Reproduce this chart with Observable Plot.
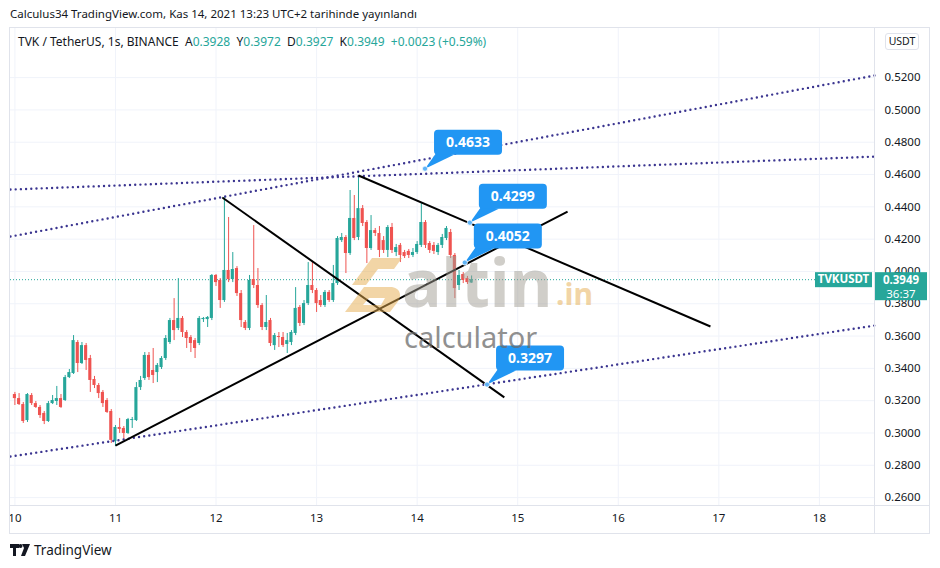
<!DOCTYPE html>
<html><head><meta charset="utf-8">
<script src="https://cdn.jsdelivr.net/npm/d3@7"></script>
<script src="https://cdn.jsdelivr.net/npm/@observablehq/plot@0.6"></script>
<style>
body{margin:0;background:#fff;font-family:"Noto Sans",sans-serif;color:#131722;}
#wrap{position:relative;width:940px;height:568px;overflow:hidden;background:#fff;}
.abs{position:absolute;}
#pub{left:10px;top:5px;font-size:11.5px;line-height:18px;color:#131722;white-space:nowrap;}
#frame{left:9px;top:27px;width:921px;height:507px;box-sizing:border-box;border:1px solid #e0e3eb;}
#chart{left:10px;top:28px;width:920px;height:505px;overflow:hidden;}
#vsep{left:874px;top:28px;width:1px;height:505px;background:#e0e3eb;}
#hsep{left:10px;top:505px;width:920px;height:1px;background:#e0e3eb;}
#legend{left:18px;top:33px;font-size:12px;line-height:18px;white-space:nowrap;}
#legend .v{color:#26a69a;}
#usdt{left:885px;top:33px;width:34px;height:17px;box-sizing:border-box;border:1px solid #e0e3eb;border-radius:3px;font-size:10.5px;line-height:15px;text-align:center;background:#fff;}
#foot{left:10px;top:540px;font-size:13.5px;line-height:20px;white-space:nowrap;}
#wm{left:0;top:0;pointer-events:none;}
</style></head><body>
<div id="wrap">
  <div id="pub" class="abs">Calculus34 TradingView.com, Kas 14, 2021 13:23 UTC+2 tarihinde yayınlandı</div>
  <div id="frame" class="abs"></div>
  <div id="chart" class="abs"></div>
  <div id="vsep" class="abs"></div>
  <div id="hsep" class="abs"></div>
  <div id="legend" class="abs"></div>
  <div id="usdt" class="abs">USDT</div>
  <div id="foot" class="abs"><svg width="20" height="12" style="vertical-align:-1px;margin-right:4px" viewBox="0 0 20 12"><path d="M0 0h9v4H6v8H3V4H0z M12 0h8l-5 12h-4l3-8z" fill="#131722"/><circle cx="10.5" cy="2" r="2" fill="#131722"/></svg>TradingView</div>
  <svg id="wm" class="abs" width="940" height="568"></svg>
</div>
<script>
// ---- data ----
const symbol = "TVK / TetherUS, 1s, BINANCE";
const startTime = "2021-11-10T00:00:00Z"; // first hourly candle
const opens = [0.3238,0.3213,0.3176,0.3077,0.3232,0.3182,0.3158,0.3121,0.3071,0.3182,
0.3195,0.3213,0.3201,0.3343,0.3368,0.3560,0.3430,0.3541,0.3461,0.3331,
0.3294,0.3251,0.3201,0.3133,0.2947,0.3034,0.3028,0.2997,0.3077,0.3077,
0.3281,0.3337,0.3480,0.3387,0.3374,0.3405,0.3461,0.3560,0.3696,0.3647,
0.3709,0.3622,0.3591,0.3572,0.3554,0.3702,0.3702,0.3709,0.3975,0.3944,
0.3820,0.4006,0.3950,0.4018,0.3863,0.3684,0.3647,0.3950,0.3913,0.3789,
0.3653,0.3696,0.3541,0.3597,0.3591,0.3548,0.3560,0.3616,0.3777,0.3678,
0.3801,0.3913,0.3882,0.3820,0.3789,0.3870,0.3820,0.3925,0.4191,0.4210,
0.4111,0.4328,0.4210,0.4389,0.4303,0.4142,0.4253,0.4235,0.4191,0.4130,
0.4272,0.4117,0.4161,0.4117,0.4124,0.4099,0.4117,0.4161,0.4303,0.4173,
0.4161,0.4117,0.4161,0.4204,0.4241,0.4099,0.3913,0.3981,0.3956,0.3928];
const closes = [0.3213,0.3176,0.3071,0.3238,0.3182,0.3158,0.3108,0.3071,0.3182,0.3201,
0.3213,0.3158,0.3343,0.3374,0.3572,0.3430,0.3541,0.3449,0.3325,0.3294,
0.3244,0.3182,0.3127,0.2954,0.3034,0.3022,0.2997,0.3083,0.3083,0.3281,
0.3325,0.3480,0.3343,0.3356,0.3418,0.3461,0.3585,0.3696,0.3634,0.3709,
0.3622,0.3585,0.3554,0.3523,0.3709,0.3709,0.3715,0.3975,0.3931,0.3820,
0.4006,0.3950,0.4012,0.3863,0.3696,0.3647,0.3944,0.3913,0.3789,0.3653,
0.3684,0.3554,0.3603,0.3591,0.3541,0.3572,0.3622,0.3771,0.3678,0.3801,
0.3913,0.3882,0.3801,0.3789,0.3870,0.3820,0.3925,0.4204,0.4210,0.4111,
0.4328,0.4204,0.4389,0.4297,0.4142,0.4253,0.4235,0.4130,0.4130,0.4272,
0.4130,0.4148,0.4099,0.4092,0.4099,0.4117,0.4167,0.4303,0.4161,0.4130,
0.4124,0.4161,0.4210,0.4266,0.4099,0.3894,0.3975,0.3944,0.3931,0.3949];
const highs = [0.3251,0.3244,0.3189,0.3244,0.3244,0.3195,0.3170,0.3133,0.3195,0.3232,
0.3288,0.3238,0.3356,0.3393,0.3603,0.3572,0.3560,0.3554,0.3480,0.3350,
0.3306,0.3263,0.3213,0.3145,0.3046,0.3090,0.3040,0.3090,0.3096,0.3312,
0.3350,0.3498,0.3498,0.3523,0.3430,0.3473,0.3603,0.3709,0.3832,0.3956,
0.3721,0.3634,0.3603,0.3585,0.3721,0.3715,0.3721,0.3981,0.3981,0.3956,
0.4458,0.4334,0.4117,0.4030,0.3882,0.3696,0.3975,0.4284,0.4018,0.3801,
0.3851,0.3709,0.3616,0.3622,0.3622,0.3616,0.3634,0.3900,0.3789,0.3820,
0.4055,0.4055,0.3894,0.3851,0.3882,0.3882,0.4037,0.4216,0.4235,0.4222,
0.4501,0.4470,0.4594,0.4408,0.4315,0.4346,0.4266,0.4278,0.4216,0.4284,
0.4297,0.4167,0.4173,0.4130,0.4136,0.4142,0.4185,0.4420,0.4315,0.4185,
0.4179,0.4173,0.4229,0.4278,0.4260,0.4111,0.4006,0.3993,0.3969,0.3972];
const lows = [0.3170,0.3170,0.3059,0.3065,0.3170,0.3152,0.3090,0.3052,0.3065,0.3176,
0.3170,0.3152,0.3195,0.3337,0.3362,0.3374,0.3424,0.3387,0.3251,0.3275,
0.3213,0.3158,0.3121,0.2935,0.2916,0.2997,0.2954,0.2991,0.3028,0.3071,
0.3263,0.3325,0.3325,0.3306,0.3312,0.3393,0.3449,0.3548,0.3572,0.3634,
0.3591,0.3523,0.3498,0.3461,0.3541,0.3684,0.3653,0.3696,0.3907,0.3771,
0.3808,0.3931,0.3931,0.3845,0.3653,0.3634,0.3634,0.3894,0.3771,0.3634,
0.3634,0.3535,0.3511,0.3529,0.3529,0.3492,0.3541,0.3603,0.3659,0.3665,
0.3789,0.3863,0.3746,0.3777,0.3777,0.3808,0.3808,0.3913,0.4179,0.3987,
0.4099,0.4191,0.4191,0.4278,0.4049,0.4130,0.4216,0.4086,0.4111,0.4086,
0.4111,0.4092,0.4055,0.4080,0.4080,0.4086,0.4105,0.4148,0.4142,0.4111,
0.4105,0.4099,0.4142,0.4191,0.4080,0.3832,0.3882,0.3925,0.3919,0.3927];

const yTicks = [0.26,0.28,0.30,0.32,0.34,0.36,0.38,0.40,0.42,0.44,0.46,0.48,0.50,0.52];
const dayTicks = ["2021-11-10","2021-11-11","2021-11-12","2021-11-13","2021-11-14","2021-11-15","2021-11-16","2021-11-17","2021-11-18"];
const xDomain = ["2021-11-09T22:57:00Z","2021-11-18T13:09:00Z"];
const yDomain = [0.2551, 0.5504];

// solid trend lines (black)
const trendStart = ["2021-11-11T00:00:00Z","2021-11-12T01:30:00Z","2021-11-13T10:00:00Z"];
const trendStartVal = [0.2922, 0.4458, 0.4594];
const trendEnd = ["2021-11-15T11:54:00Z","2021-11-14T20:48:00Z","2021-11-16T22:00:00Z"];
const trendEndVal = [0.4371, 0.3220, 0.3659];
// dotted channel lines (purple)
const chanStart = ["2021-11-09T22:57:00Z","2021-11-09T22:57:00Z","2021-11-09T22:57:00Z"];
const chanStartVal = [0.4216, 0.4507, 0.2854];
const chanEnd = ["2021-11-18T13:09:00Z","2021-11-18T13:09:00Z","2021-11-18T13:09:00Z"];
const chanEndVal = [0.5213, 0.4711, 0.3665];
// price callouts
const noteTimes = ["2021-11-14T02:00:00Z","2021-11-14T12:42:00Z","2021-11-14T11:30:00Z","2021-11-14T16:48:00Z"];
const noteVals = [0.4633, 0.4299, 0.4052, 0.3297];

const lastPrice = 0.3949;
const countdown = "36:37";
const ticker = "TVKUSDT";
const legendParts = [["A","0.3928"],["Y","0.3972"],["D","0.3927"],["K","0.3949"]];
const change = "+0.0023 (+0.59%)";

// ---- build ----
const GREEN = "#26a69a", RED = "#ef5350", PURPLE = "#3b3590";
const H = 3600e3;
const t0 = new Date(startTime).getTime();
const candles = opens.map((o, i) => ({
  date: new Date(t0 + i * H), open: o, close: closes[i], high: highs[i], low: lows[i]
}));
const col = d => d.close >= d.open ? GREEN : RED;
const trends = trendStart.map((s, i) => ({x1: new Date(s), y1: trendStartVal[i], x2: new Date(trendEnd[i]), y2: trendEndVal[i]}));
const chans = chanStart.map((s, i) => ({x1: new Date(s), y1: chanStartVal[i], x2: new Date(chanEnd[i]), y2: chanEndVal[i]}));
const notes = noteTimes.map((t, i) => ({date: new Date(t), value: noteVals[i]}));

document.getElementById("legend").innerHTML =
  symbol + "&nbsp;&nbsp;" +
  legendParts.map(([k, v]) => `${k}<span class="v">${v}</span>`).join("&nbsp;&nbsp;") +
  `&nbsp;&nbsp;<span class="v">${change}</span>`;

const chart = Plot.plot({
  width: 920, height: 505,
  marginTop: 0, marginLeft: 0, marginRight: 56, marginBottom: 28,
  x: {type: "utc", domain: xDomain.map(d => new Date(d))},
  y: {domain: yDomain},
  style: {fontFamily: "Noto Sans, sans-serif", fontSize: "11.5px", color: "#131722", background: "transparent"},
  marks: [
    Plot.ruleY(yTicks, {stroke: "#f0f3fa", strokeOpacity: 1}),
    Plot.ruleX(dayTicks.map(d => new Date(d)), {stroke: "#f0f3fa", strokeOpacity: 1}),
    Plot.ruleY([lastPrice], {stroke: GREEN, strokeDasharray: "1 2", strokeWidth: 1}),
    Plot.ruleX(candles, {x: "date", y1: "low", y2: "high", stroke: col, strokeWidth: 1}),
    Plot.rect(candles, {
      x1: d => new Date(+d.date - 0.37 * H), x2: d => new Date(+d.date + 0.37 * H),
      y1: "open", y2: "close", fill: col
    }),
    Plot.link(chans, {x1: "x1", y1: "y1", x2: "x2", y2: "y2", stroke: PURPLE, strokeWidth: 2.4, strokeDasharray: "0 5.2", strokeLinecap: "round"}),
    Plot.link(trends, {x1: "x1", y1: "y1", x2: "x2", y2: "y2", stroke: "#000", strokeWidth: 2}),
    Plot.axisY(yTicks, {anchor: "right", tickSize: 0, tickPadding: 10, tickFormat: d => d.toFixed(4), label: null, fill: "#131722"}),
    Plot.axisX(dayTicks.map(d => new Date(d)), {anchor: "bottom", tickSize: 0, tickPadding: 8, tickFormat: d3.utcFormat("%-d"), label: null, fill: "#131722"})
  ]
});
document.getElementById("chart").appendChild(chart);

const sx = chart.scale("x"), sy = chart.scale("y");
const svg = d3.select(chart);

// callouts
const g = svg.append("g");
for (const n of notes) {
  const px = sx.apply(n.date), py = sy.apply(n.value);
  const bx = px + 9, by = py - 39, bw = 68, bh = 25;
  g.append("path").attr("d", `M${bx + 3},${by + bh - 3} L${bx + 20},${by + bh} L${px},${py} Z`).attr("fill", "#2196f3");
  g.append("rect").attr("x", bx).attr("y", by).attr("width", bw).attr("height", bh).attr("rx", 4).attr("fill", "#2196f3");
  g.append("text").attr("x", bx + bw / 2).attr("y", by + bh / 2).attr("dy", "0.36em").attr("text-anchor", "middle")
    .attr("fill", "#fff").attr("font-weight", "bold").attr("font-size", 14).text(n.value.toFixed(4));
  g.append("circle").attr("cx", px).attr("cy", py).attr("r", 2.6).attr("fill", "#5fb3f6").attr("stroke", "#fff").attr("stroke-width", 0.8);
}

// price badges
const ly = sy.apply(lastPrice);
const b = svg.append("g");
b.append("rect").attr("x", 805).attr("y", ly - 7).attr("width", 57).attr("height", 15).attr("fill", GREEN);
b.append("text").attr("x", 833.5).attr("y", ly).attr("dy", "0.36em").attr("text-anchor", "middle").attr("fill", "#fff")
  .attr("font-weight", "bold").attr("font-size", 11.5).text(ticker);
b.append("rect").attr("x", 865).attr("y", ly - 7).attr("width", 52).attr("height", 28).attr("fill", GREEN);
b.append("text").attr("x", 891).attr("y", ly + 1).attr("dy", "0.36em").attr("text-anchor", "middle").attr("fill", "#fff")
  .attr("font-weight", "bold").attr("font-size", 11.5).text(lastPrice.toFixed(4));
b.append("text").attr("x", 891).attr("y", ly + 14.5).attr("dy", "0.36em").attr("text-anchor", "middle").attr("fill", "#fff")
  .attr("font-size", 11.5).text(countdown);

// watermark (altin.in calculator)
const wm = d3.select("#wm");
const wg = wm.append("g").attr("opacity", 0.5);
wg.append("path").attr("d", "M352,285 L372,258 L402,258 L394,269 L378,269 L366,285 Z").attr("fill", "#e6ad4f");
wg.append("path").attr("d", "M345,312 L364,287 L390,287 C401,287 403,297 396,304 L390,312 Z M363,305 L381,305 L385,298 L369,298 Z").attr("fill", "#e6ad4f").attr("fill-rule", "evenodd");
wg.append("text").attr("x", 402).attr("y", 307).attr("font-size", 66).attr("font-weight", "bold").attr("fill", "#a29e94").attr("font-family", "Noto Sans").text("altin");
wg.append("text").attr("x", 556).attr("y", 305).attr("font-size", 30).attr("font-weight", "bold").attr("fill", "#e6ad4f").attr("font-family", "Noto Sans").text(".in");
wm.append("text").attr("x", 404).attr("y", 348).attr("font-size", 29).attr("fill", "#6b6b6b").attr("opacity", 0.75).attr("font-family", "Noto Sans").text("calculator");
</script>
</body></html>
